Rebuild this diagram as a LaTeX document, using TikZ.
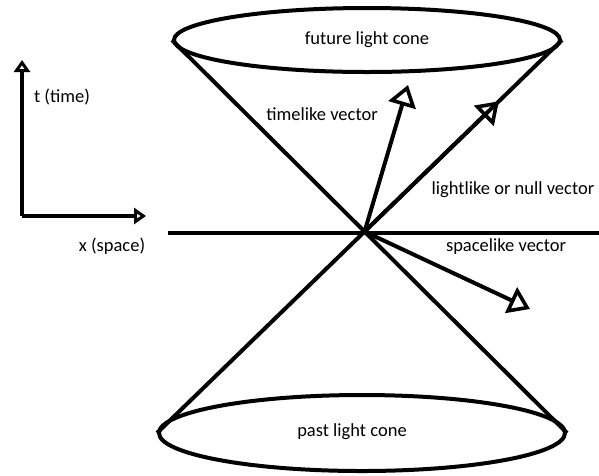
\documentclass[tikz,border=0pt]{standalone}
\usepackage{fontspec}
\setmainfont{Carlito}
\usetikzlibrary{positioning,arrows.meta,calc,shapes.geometric}

\begin{document}
\begin{tikzpicture}[x=1pt,y=-1pt,
    thick line/.style={line width=4pt},
    cone/.style={draw,ellipse,line width=4pt,inner sep=0pt,font=\fontsize{18.5}{20}\selectfont},
    vec/.style={line width=4pt,-{Triangle[open,length=21pt,width=28pt,line width=3.6pt]}},
    axis/.style={line width=4pt,-{Triangle[open,length=12pt,width=16pt,line width=3.6pt]}},
    lbl/.style={font=\fontsize{18.5}{20}\selectfont,inner sep=0pt}]
    \useasboundingbox (0,0) rectangle (599,475);
    % light cones
    \node[cone,minimum width=386pt,minimum height=64pt] (future) at (367,40) {future light cone};
    \node[cone,minimum width=406pt,minimum height=76pt] (past) at (362,433) {};
    \node[lbl] (pastlbl) at (352,432) {past light cone};
    \coordinate (o) at (intersection of future.west--past.east and future.east--past.west);
    \draw[thick line] (future.west) -- (past.east);
    \draw[thick line] (future.east) -- (past.west);
    % space axis through the event
    \coordinate (hl) at (168,233);
    \coordinate (hr) at (599,233);
    \draw[thick line] (hl) -- (hr);
    % reference frame
    \coordinate (corner) at (22,216);
    \coordinate (tend) at (22,60);
    \coordinate (xend) at (146,216);
    \draw[axis] (corner) -- (tend);
    \draw[axis] (corner) -- (xend);
    \node[lbl] (tlbl) at (62,97) {t (time)};
    \node[lbl] (xlbl) at (112,246) {x (space)};
    % vectors
    \coordinate (timetip) at (408,85);
    \coordinate (nulltip) at ($(o)!0.68!(future.east)$);
    \coordinate (spacetip) at (530,309);
    \draw[vec] (o) -- (timetip);
    \draw[vec] (o) -- (nulltip);
    \draw[vec] (o) -- (spacetip);
    \node[lbl] (timelbl) at (322,114) {timelike vector};
    \node[lbl] (nulllbl) at (513,190) {lightlike or null vector};
    \node[lbl] (spacelbl) at (506,247) {spacelike vector};
\end{tikzpicture}
\end{document}
